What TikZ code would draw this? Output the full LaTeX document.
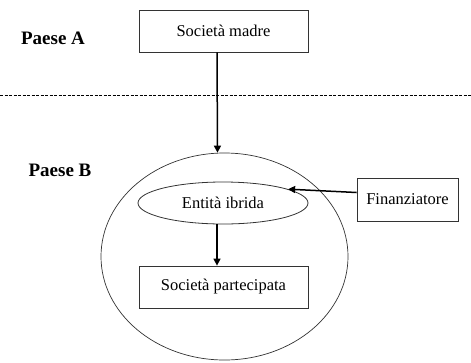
\documentclass[tikz,border=0pt]{standalone}
\usepackage{fontspec}
\setmainfont{Liberation Serif}
\usetikzlibrary{arrows.meta,shapes.geometric}
\begin{document}
\begin{tikzpicture}[x=1pt,y=-1pt,
  txt/.style={font=\fontsize{16.5}{18}\selectfont},
  box/.style={txt,draw=black!80,line width=0.8pt,minimum width=169pt,minimum height=42pt,inner sep=0pt},
  smallbox/.style={txt,draw=black!80,line width=0.8pt,minimum width=101pt,minimum height=43pt,inner sep=0pt},
  oval/.style={txt,ellipse,draw=black!80,line width=0.8pt,minimum width=170pt,minimum height=42pt,inner sep=0pt},
  big/.style={ellipse,draw=black!80,line width=0.7pt,minimum width=247pt,minimum height=207pt,inner sep=0pt},
  lbl/.style={font=\bfseries\fontsize{19}{21}\selectfont},
  arr/.style={line width=1.5pt,-{Triangle[length=7pt,width=7pt]}}]
\useasboundingbox (0,0) rectangle (471,362);
\node[big] (country) at (224.5,256.5) {};
\node[box] (madre) at (223.5,31) {Società madre};
\node[lbl] (pa) at (53,38) {Paese A};
\node[lbl] (pb) at (60,170) {Paese B};
\node[oval] (hyb) at (223,203) {Entità ibrida};
\node[box] (part) at (223.5,287) {Società partecipata};
\node[smallbox] (fin) at (407.5,199.5) {Finanziatore};
\coordinate (dl) at (0,95);
\coordinate (dr) at (471,95);
\draw[line width=1pt,dash pattern=on 3pt off 1.5pt] (dl) -- (dr);
\draw[arr] ([xshift=-6.5pt]madre.south) -- ([xshift=-7pt]country.north);
\draw[arr] ([xshift=-6pt]hyb.south) -- ([xshift=-6.5pt]part.north);
\draw[arr] ([yshift=7pt]fin.west) -- (hyb.12);
\end{tikzpicture}
\end{document}
